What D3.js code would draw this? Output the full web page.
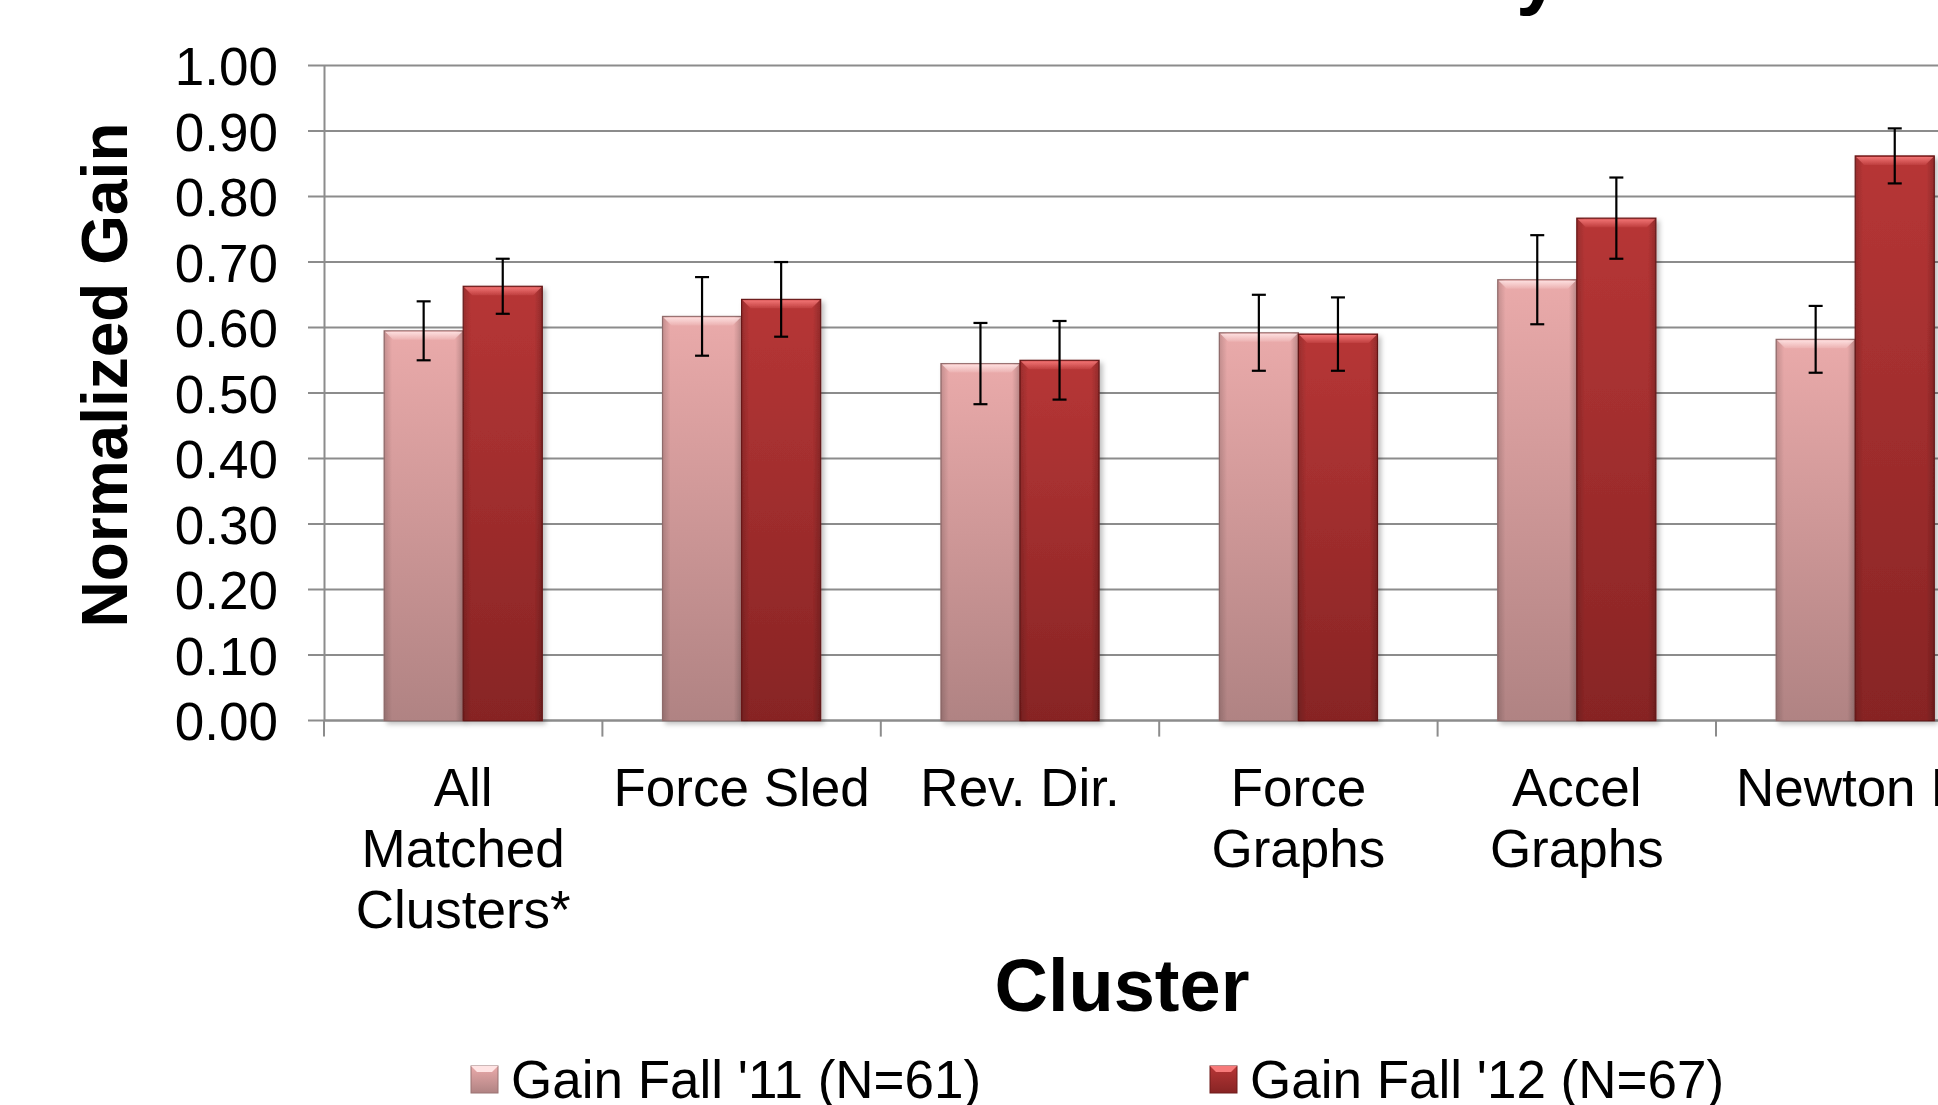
<!DOCTYPE html>
<html><head><meta charset="utf-8">
<script src="https://cdn.jsdelivr.net/npm/d3@7"></script>
<style>html,body{margin:0;padding:0;background:#fff;overflow:hidden;width:1938px;height:1105px}svg{display:block}</style>
</head><body><div id="chart"></div>
<script>
const categories = ["All Matched Clusters*", "Force Sled", "Rev. Dir.", "Force Graphs", "Accel Graphs", "Newton III"];
const categoryLabels = [["All","Matched","Clusters*"],["Force Sled"],["Rev. Dir."],["Force","Graphs"],["Accel","Graphs"],["Newton III"]];
const seriesNames = ["Gain Fall '11 (N=61)", "Gain Fall '12 (N=67)"];
const gainFall11 = [0.595, 0.617, 0.545, 0.592, 0.673, 0.582];
const errFall11  = [0.045, 0.060, 0.062, 0.058, 0.068, 0.051];
const gainFall12 = [0.663, 0.643, 0.550, 0.590, 0.767, 0.862];
const errFall12  = [0.042, 0.057, 0.060, 0.056, 0.062, 0.042];
const yTicks = [0,0.1,0.2,0.3,0.4,0.5,0.6,0.7,0.8,0.9,1.0];
const titleText = "Normalized Gain by Cluster";
const xTitle = "Cluster";
const yTitle = "Normalized Gain";

const W = 2100, H = 1105;
const svg = d3.select("#chart").append("svg").attr("width", W).attr("height", H)
  .style("font-family", "'Liberation Sans', Arial, sans-serif");

const x0 = 324, catW = 278.4;
const x = d3.scaleBand().domain(categories).range([x0, x0 + catW * categories.length]).paddingInner(0).paddingOuter(0);
const xs = d3.scaleBand().domain([0,1]).range([0, x.bandwidth()]).paddingInner(0).paddingOuter(0.76);
const y = d3.scaleLinear().domain([0, 1]).range([720.6, 65.5]);

const defs = svg.append("defs");
const grads = [
  {id:"g0", top:"#eaaaaa", bot:"#b08383", hi:"#ffe4e4", edge:"#9a7373"},
  {id:"g1", top:"#b73636", bot:"#872424", hi:"#f77a7a", edge:"#6e1a1a"}
];
grads.forEach(g => {
  const lg = defs.append("linearGradient").attr("id", g.id).attr("x1",0).attr("y1",0).attr("x2",0).attr("y2",1);
  lg.append("stop").attr("offset","0%").attr("stop-color", g.top);
  lg.append("stop").attr("offset","100%").attr("stop-color", g.bot);
  const sg = defs.append("linearGradient").attr("id", g.id+"s").attr("x1",0).attr("y1",0).attr("x2",1).attr("y2",0);
  sg.append("stop").attr("offset","0%").attr("stop-color", "#000").attr("stop-opacity",0.16);
  sg.append("stop").attr("offset","10%").attr("stop-color", "#000").attr("stop-opacity",0);
  sg.append("stop").attr("offset","90%").attr("stop-color", "#000").attr("stop-opacity",0);
  sg.append("stop").attr("offset","100%").attr("stop-color", "#000").attr("stop-opacity",0.2);
  const hg = defs.append("linearGradient").attr("id", g.id+"h").attr("x1",0).attr("y1",0).attr("x2",0).attr("y2",1);
  hg.append("stop").attr("offset","0%").attr("stop-color", g.hi).attr("stop-opacity",1);
  hg.append("stop").attr("offset","100%").attr("stop-color", g.hi).attr("stop-opacity",0.15);
});
const f = defs.append("filter").attr("id","shadow").attr("x","-10%").attr("y","-10%").attr("width","130%").attr("height","130%");
f.append("feDropShadow").attr("dx",3).attr("dy",3).attr("stdDeviation",2.5).attr("flood-color","#000").attr("flood-opacity",0.25);

// title (mostly off-canvas)
svg.append("text").attr("x", 1336).attr("y", -1).attr("text-anchor","middle")
  .attr("font-weight","bold").attr("font-size", 80).text(titleText);

// gridlines
svg.append("g").selectAll("line").data(yTicks).join("line")
  .attr("x1", x0 - 16).attr("x2", W).attr("y1", d => y(d)).attr("y2", d => y(d))
  .attr("stroke", "#8c8c8c").attr("stroke-width", 2);

// y axis
const yAxis = d3.axisLeft(y).tickValues(yTicks).tickFormat(d3.format(".2f")).tickSize(0).tickPadding(46);
const ya = svg.append("g").attr("transform", `translate(${x0},0)`).call(yAxis);
ya.select(".domain").attr("stroke","#8c8c8c").attr("stroke-width",2);
ya.selectAll("text").attr("font-size", 53).attr("fill","#000").attr("font-family","'Liberation Sans', Arial, sans-serif").attr("dy","0.36em");

// x axis
const xa = svg.append("g").attr("transform", `translate(0,${y(0)})`);
xa.append("line").attr("x1", x0).attr("x2", W).attr("y1",0).attr("y2",0).attr("stroke","#8c8c8c").attr("stroke-width",2);
const boundaries = d3.range(categories.length + 1).map(i => x0 + i * catW);
xa.selectAll("line.tk").data(boundaries).join("line").attr("class","tk")
  .attr("x1", d => d).attr("x2", d => d).attr("y1", 0).attr("y2", 16)
  .attr("stroke","#8c8c8c").attr("stroke-width",2);

// category labels
const lab = svg.append("g");
categories.forEach((c, i) => {
  const t = lab.append("text").attr("x", x(c) + x.bandwidth()/2).attr("y", 806)
    .attr("text-anchor","middle").attr("font-size", 53).attr("fill","#000");
  categoryLabels[i].forEach((line, j) => {
    t.append("tspan").attr("x", x(c) + x.bandwidth()/2).attr("dy", j === 0 ? 0 : 61).text(line);
  });
});

// bars
const series = [
  {vals: gainFall11, errs: errFall11, g: grads[0]},
  {vals: gainFall12, errs: errFall12, g: grads[1]}
];
const bw = xs.bandwidth();
series.forEach((s, si) => {
  const bg = svg.append("g");
  categories.forEach((c, i) => {
    const bx = x(c) + xs(si), by = y(s.vals[i]), bh = y(0) - by;
    const grp = bg.append("g").attr("filter","url(#shadow)");
    grp.append("rect").attr("x", bx).attr("y", by).attr("width", bw).attr("height", bh)
      .attr("fill", `url(#${s.g.id})`).attr("stroke", s.g.edge).attr("stroke-width", 1.2);
    grp.append("rect").attr("x", bx).attr("y", by).attr("width", bw).attr("height", bh)
      .attr("fill", `url(#${s.g.id}s)`);
    const bev = 9;
    grp.append("path").attr("d", `M${bx+1},${by+1} L${bx+bw-1},${by+1} L${bx+bw-bev},${by+bev} L${bx+bev},${by+bev} Z`)
      .attr("fill", `url(#${s.g.id}h)`).attr("opacity", 0.9);
  });
});

// error bars
series.forEach((s, si) => {
  const eg = svg.append("g").attr("stroke","#000").attr("stroke-width",2.2);
  categories.forEach((c, i) => {
    const cx = x(c) + xs(si) + bw/2;
    const top = y(s.vals[i] + s.errs[i]), bot = y(s.vals[i] - s.errs[i]);
    eg.append("line").attr("x1",cx).attr("x2",cx).attr("y1",top).attr("y2",bot);
    eg.append("line").attr("x1",cx-7).attr("x2",cx+7).attr("y1",top).attr("y2",top);
    eg.append("line").attr("x1",cx-7).attr("x2",cx+7).attr("y1",bot).attr("y2",bot);
  });
});

// axis titles
svg.append("text").attr("transform","translate(127,375) rotate(-90)").attr("text-anchor","middle")
  .attr("font-weight","bold").attr("font-size", 64).text(yTitle);
svg.append("text").attr("x", 1122).attr("y", 1011).attr("text-anchor","middle")
  .attr("font-weight","bold").attr("font-size", 74).text(xTitle);

// legend
const legX = [471, 1210];
seriesNames.forEach((n, i) => {
  const g = svg.append("g");
  const sx = legX[i], sy = 1066, ss = 27;
  g.append("rect").attr("x", sx).attr("y", sy).attr("width", ss).attr("height", ss)
    .attr("fill", `url(#${grads[i].id})`).attr("stroke", grads[i].edge).attr("stroke-width",1);
  g.append("path").attr("d", `M${sx},${sy} L${sx+ss},${sy} L${sx+ss-6},${sy+6} L${sx+6},${sy+6} Z`).attr("fill", grads[i].hi);
  g.append("text").attr("x", sx + 40).attr("y", 1097.5).attr("font-size", 53).attr("fill","#000").text(n);
});
</script></body></html>
